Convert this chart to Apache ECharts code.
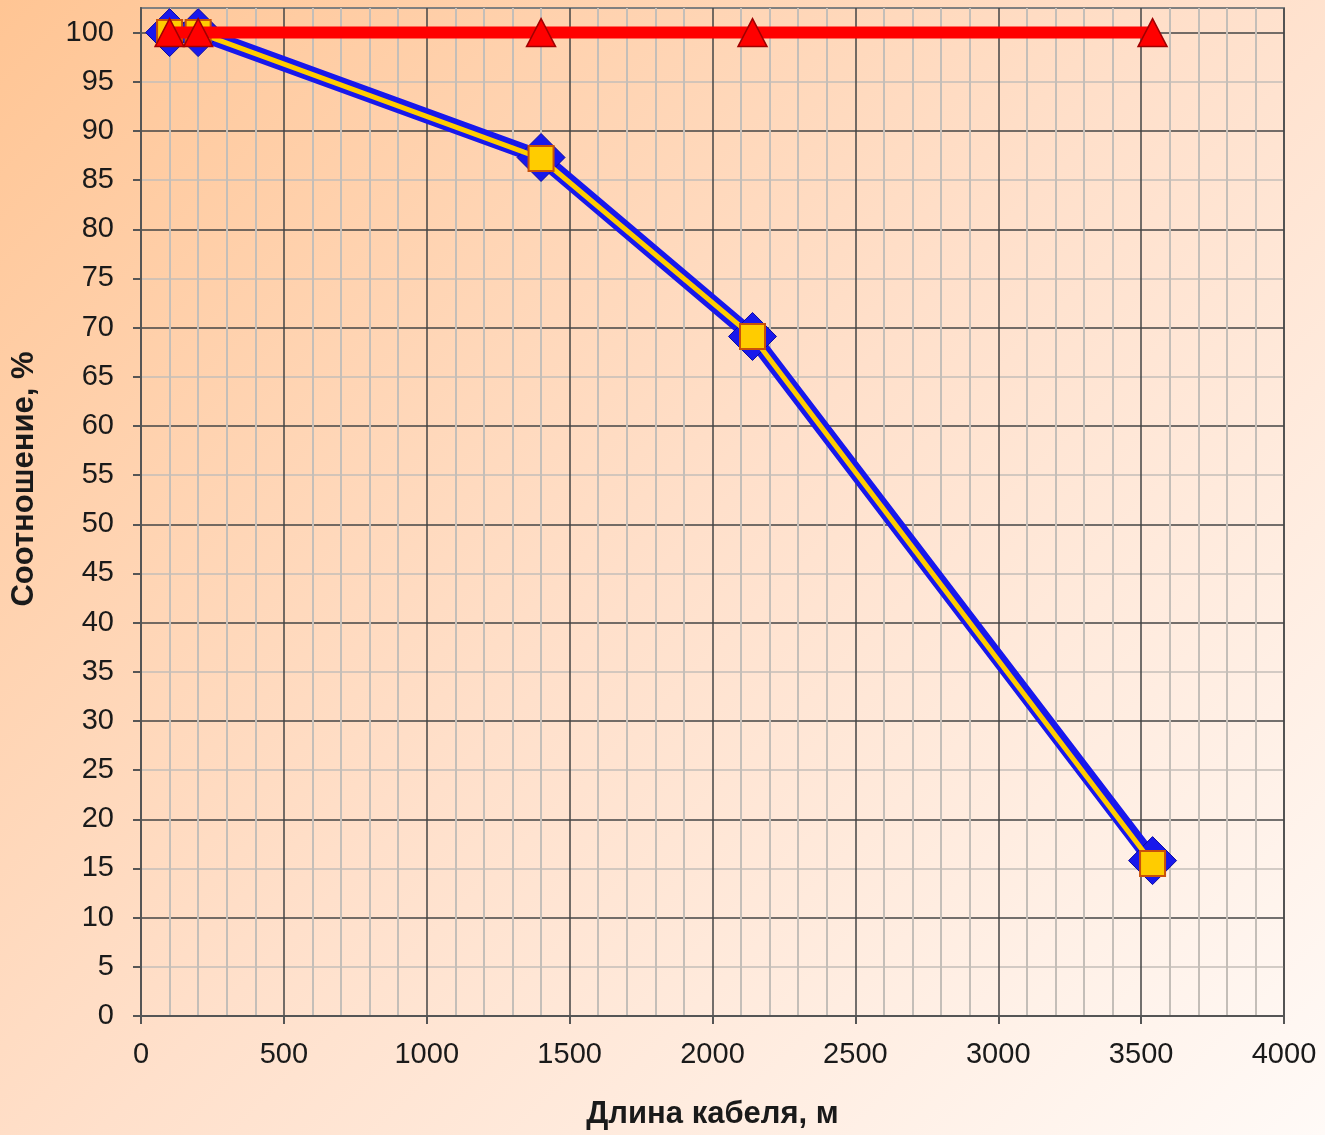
<!DOCTYPE html>
<html>
<head>
<meta charset="utf-8">
<title>Соотношение от длины кабеля</title>
<script src="https://cdn.jsdelivr.net/npm/echarts@6/dist/echarts.min.js"></script>
<style>
  html, body { margin: 0; padding: 0; width: 100%; height: 100%; overflow: hidden; }
  body { background: linear-gradient(135deg, #FFC594 0%, #FFE0CB 50%, #FFFAF7 100%); }
  #chart { width: 1325px; height: 1135px; }
</style>
</head>
<body>
<div id="chart"></div>
<script>
// Cable length, m
const cableLength = [100, 200, 1400, 2140, 3540];
// Ratio, % (three measured series)
const ratioBlue = [100, 100, 87.3, 69.1, 15.8];
const ratioYellow = [100, 100, 87.2, 69.1, 15.5];
const ratioRed = [100, 100, 100, 100, 100];
// Major y tick values that carry labels
const yMajorTicks = [0, 5, 10, 15, 20, 25, 30, 35, 40, 45, 50, 55, 60, 65, 70, 75, 80, 85, 90, 95, 100];

const pairs = (ys) => cableLength.map((x, i) => [x, ys[i]]);

const chart = echarts.init(document.getElementById('chart'), null, { renderer: 'canvas' });

const fontFamily = 'Liberation Sans, Arial, sans-serif';
const labelFont = { fontFamily: fontFamily, fontSize: 29, color: '#1a1a1a' };
const nameFont = { fontFamily: fontFamily, fontSize: 31, fontWeight: 'bold', color: '#1a1a1a' };

chart.setOption({
  backgroundColor: 'transparent',
  animation: false,
  grid: {
    left: 141, right: 41, top: 8, bottom: 117,
    show: true, borderColor: '#808080', borderWidth: 2, backgroundColor: 'transparent'
  },
  xAxis: {
    type: 'value', min: 0, max: 4000, interval: 500,
    name: 'Длина кабеля, м', nameLocation: 'middle', nameGap: 83,
    nameTextStyle: nameFont,
    axisLine: { show: true, lineStyle: { color: '#555', width: 2 } },
    axisTick: { show: true, length: 8, lineStyle: { color: '#555', width: 2 } },
    axisLabel: Object.assign({ margin: 24, formatter: (v) => String(v) }, labelFont),
    splitLine: { show: true, lineStyle: { color: '#454545', width: 1.5 } },
    minorTick: { show: false, splitNumber: 5 },
    minorSplitLine: { show: true, lineStyle: { color: '#c4beb8', width: 2 } }
  },
  yAxis: {
    type: 'value', min: 0, max: 102.5, interval: 2.5,
    name: 'Соотношение, %', nameLocation: 'middle', nameGap: 101, nameRotate: 90,
    nameTextStyle: Object.assign({ padding: [0, 0, 0, 66] }, nameFont),
    axisLine: { show: true, lineStyle: { color: '#555', width: 2 } },
    axisTick: { show: true, length: 8, customValues: yMajorTicks, lineStyle: { color: '#555', width: 2 } },
    axisLabel: Object.assign({ margin: 27, customValues: yMajorTicks, formatter: (v) => String(v) }, labelFont),
    splitLine: { show: true, lineStyle: { color: ['#454545', '#c4beb8'], width: 1.5 } }
  },
  series: [
    {
      name: 'blue', type: 'line', data: pairs(ratioBlue), z: 2,
      lineStyle: { color: '#1818EC', width: 15 },
      symbol: 'diamond', symbolSize: 48,
      itemStyle: { color: '#1818EC', borderColor: '#0a0aa0', borderWidth: 1 }
    },
    {
      name: 'yellow', type: 'line', data: pairs(ratioYellow), z: 3,
      lineStyle: { color: '#FFCC00', width: 5 },
      symbol: 'rect', symbolSize: 25,
      itemStyle: { color: '#FFCC00', borderColor: '#C8500A', borderWidth: 2 }
    },
    {
      name: 'red', type: 'line', data: pairs(ratioRed), z: 4,
      lineStyle: { color: '#FF0000', width: 12 },
      symbol: 'triangle', symbolSize: [29, 28],
      itemStyle: { color: '#FF0000', borderColor: '#A00000', borderWidth: 1.5 }
    }
  ]
});
</script>
</body>
</html>
